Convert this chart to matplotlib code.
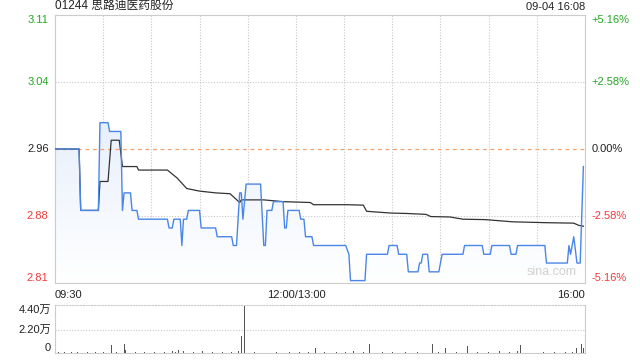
import matplotlib
matplotlib.use("Agg")
import matplotlib.pyplot as plt
import numpy as np
from matplotlib.colors import LinearSegmentedColormap

plt.rcParams['font.family'] = ['Liberation Sans', 'Noto Sans CJK SC', 'DejaVu Sans']

stock_code = "01244"
stock_name = "思路迪医药股份"
stamp = "09-04 16:08"
prev_close = 2.96
pct_levels = [0.0516, 0.0258, 0.0, -0.0258, -0.0516]
pct_labels = ["+5.16%", "+2.58%", "0.00%", "-2.58%", "-5.16%"]
time_labels = ["09:30", "12:00/13:00", "16:00"]
vol_ticks = [0, 22000, 44000]
vol_tick_labels = ["0", "2.20万", "4.40万"]

# minute index (0..330, lunch break removed) and price
price_min = [0, 15, 16, 27, 28, 33, 34, 41, 42, 43, 47, 48, 51, 52, 70, 71, 73, 74, 78, 79, 80,
             82, 83, 90, 91, 100, 101, 110, 111, 113, 115, 116, 117, 118, 119, 128, 130, 131, 132,
             135, 136, 142, 143, 144, 145, 152, 153, 155, 156, 160, 161, 181, 183, 184, 193, 194,
             207, 208, 213, 214, 219, 220, 226, 227, 228, 229, 232, 233, 239, 241, 254, 255, 266,
             267, 271, 272, 283, 284, 287, 288, 305, 306, 319, 320, 321, 323, 325, 327, 329]
price_val = [2.96, 2.96, 2.89, 2.89, 2.99, 2.99, 2.98, 2.98, 2.89, 2.91, 2.91, 2.89, 2.89, 2.88,
             2.88, 2.87, 2.87, 2.88, 2.88, 2.85, 2.88, 2.88, 2.89, 2.89, 2.87, 2.87, 2.86, 2.86,
             2.85, 2.85, 2.91, 2.91, 2.88, 2.90, 2.92, 2.92, 2.85, 2.85, 2.89, 2.89, 2.90, 2.90,
             2.87, 2.87, 2.89, 2.89, 2.88, 2.88, 2.86, 2.86, 2.85, 2.85, 2.84, 2.81, 2.81, 2.84,
             2.84, 2.85, 2.85, 2.84, 2.84, 2.82, 2.82, 2.83, 2.83, 2.84, 2.84, 2.82, 2.82, 2.84,
             2.84, 2.85, 2.85, 2.84, 2.84, 2.85, 2.85, 2.84, 2.84, 2.85, 2.85, 2.83, 2.83, 2.85,
             2.84, 2.86, 2.83, 2.83, 2.94]

avg_min = [0, 15, 16, 27, 28, 33, 35, 40, 42, 51, 52, 70, 76, 82, 90, 100, 109, 112, 115, 116,
           130, 142, 159, 161, 182, 192, 194, 209, 219, 231, 234, 246, 254, 268, 285, 306, 323,
           326, 329]
avg_val = [2.96, 2.96, 2.89, 2.89, 2.923, 2.923, 2.97, 2.97, 2.94, 2.94, 2.936, 2.936, 2.927,
           2.915, 2.912, 2.910, 2.909, 2.904, 2.899, 2.902, 2.902, 2.900, 2.899, 2.8965, 2.8965,
           2.896, 2.889, 2.887, 2.8865, 2.8855, 2.883, 2.8825, 2.880, 2.8795, 2.877, 2.876,
           2.8755, 2.873, 2.872]

vol_min = [2, 6, 10, 14, 20, 25, 30, 33, 35, 38, 43, 44, 50, 56, 62, 68, 73, 75, 77, 80, 86,
           92, 98, 104, 110, 114, 116, 118, 124, 132, 138, 146, 152, 158, 162, 168, 175, 181,
           186, 192, 196, 204, 210, 218, 226, 231, 235, 239, 243, 250, 257, 263, 270, 277, 283,
           288, 290, 297, 304, 311, 318, 322, 325, 328, 329]
vol_val = [600, 500, 700, 500, 800, 600, 700, 500, 7600, 900, 8600, 2500, 700, 600, 800, 700,
           2000, 1200, 3000, 2000, 900, 1500, 700, 800, 900, 2000, 16000, 44500, 900, 1500, 700,
           800, 900, 700, 4800, 800, 700, 900, 2000, 700, 8600, 800, 900, 1200, 700, 900, 8600,
           800, 5000, 900, 7000, 700, 900, 1800, 800, 2000, 7600, 800, 900, 700, 800, 1200,
           4500, 8600, 5000]

green = '#22a822'
red = '#f03c3c'
blue = '#4a86e8'
grid_c = '#c8c8c8'
total = 330

fig = plt.figure(figsize=(6.4, 3.6), dpi=100)
ax = fig.add_axes([55 / 640, 77 / 360, 530 / 640, 268 / 360])
axv = fig.add_axes([55 / 640, 7 / 360, 530 / 640, 48 / 360])

ymax = prev_close * (1 + pct_levels[0])
ymin = prev_close * (1 + pct_levels[-1])
ax.set_xlim(0, total)
ax.set_ylim(ymin, ymax)

# gradient fill under the price line
poly = ax.fill_between(price_min, price_val, ymin, color='none', lw=0)
cmap = LinearSegmentedColormap.from_list('g', ['#ffffff', '#d9e6fa'])
grad = np.linspace(0, 1, 256).reshape(-1, 1)
im = ax.imshow(grad, extent=[0, total, ymin, ymax], origin='lower', aspect='auto',
               cmap=cmap, zorder=1)
im.set_clip_path(poly.get_paths()[0], transform=ax.transData)

for m in range(30, total, 30):
    ax.axvline(m, color=grid_c, lw=0.8, ls=(0, (1, 1.5)), zorder=0)
for p in pct_levels[1:-1]:
    y = prev_close * (1 + p)
    if p == 0:
        ax.axhline(y, color='#f2a36b', lw=0.9, ls=(0, (3, 3)), zorder=2)
    else:
        ax.axhline(y, color=grid_c, lw=0.8, ls=(0, (1, 1.5)), zorder=0)

ax.plot(avg_min, avg_val, color='#333333', lw=0.9, zorder=3)
ax.plot(price_min, price_val, color=blue, lw=1.0, zorder=4)

ax.set_xticks([])
ax.set_yticks([])
for s in ax.spines.values():
    s.set_color('#cccccc')
    s.set_linewidth(0.8)

for i, p in enumerate(pct_levels):
    y = prev_close * (1 + p)
    col = green if p > 0 else (red if p < 0 else '#222222')
    va = 'center'
    if i == 0:
        va = 'top'
    elif i == len(pct_levels) - 1:
        va = 'bottom'
    ax.text(-0.012, y, "%.2f" % y, transform=ax.get_yaxis_transform(), ha='right', va=va,
            color=col, fontsize=8)
    ax.text(1.012, y, pct_labels[i], transform=ax.get_yaxis_transform(), ha='left', va=va,
            color=col, fontsize=8)

ax.text(0, 1.012, stock_code + " " + stock_name, transform=ax.transAxes, ha='left',
        va='bottom', fontsize=8.5, color='#222222')
ax.text(1, 1.012, stamp, transform=ax.transAxes, ha='right', va='bottom', fontsize=8,
        color='#222222')
ax.text(0.985, 0.04, "sina.com", transform=ax.transAxes, ha='right', va='center',
        fontsize=9, color='#d0d0d0')

tx = [0, 150, total]
has = ['left', 'center', 'right']
for x, lab, h in zip(tx, time_labels, has):
    ax.text(x, -0.025, lab, transform=ax.get_xaxis_transform(), ha=h, va='top',
            fontsize=8, color='#222222')

# volume panel
axv.bar(vol_min, vol_val, width=0.6, color='#555555', zorder=3)
axv.set_xlim(0, total)
axv.set_ylim(0, 45500)
axv.set_xticks([])
axv.set_yticks([])
axv.axhline(22000, color=grid_c, lw=0.8, ls=(0, (1, 1.5)), zorder=0)
for s in axv.spines.values():
    s.set_color('#cccccc')
    s.set_linewidth(0.8)
axv.spines['top'].set_linestyle((0, (1, 1.5)))
for i, (v, lab) in enumerate(zip(vol_ticks, vol_tick_labels)):
    va = 'bottom' if i == 0 else ('top' if i == len(vol_ticks) - 1 else 'center')
    yy = v if i < len(vol_ticks) - 1 else 45500
    axv.text(-0.008, yy, lab, transform=axv.get_yaxis_transform(), ha='right', va=va,
             fontsize=8, color='#222222')

fig.savefig("out.png", dpi=100)
